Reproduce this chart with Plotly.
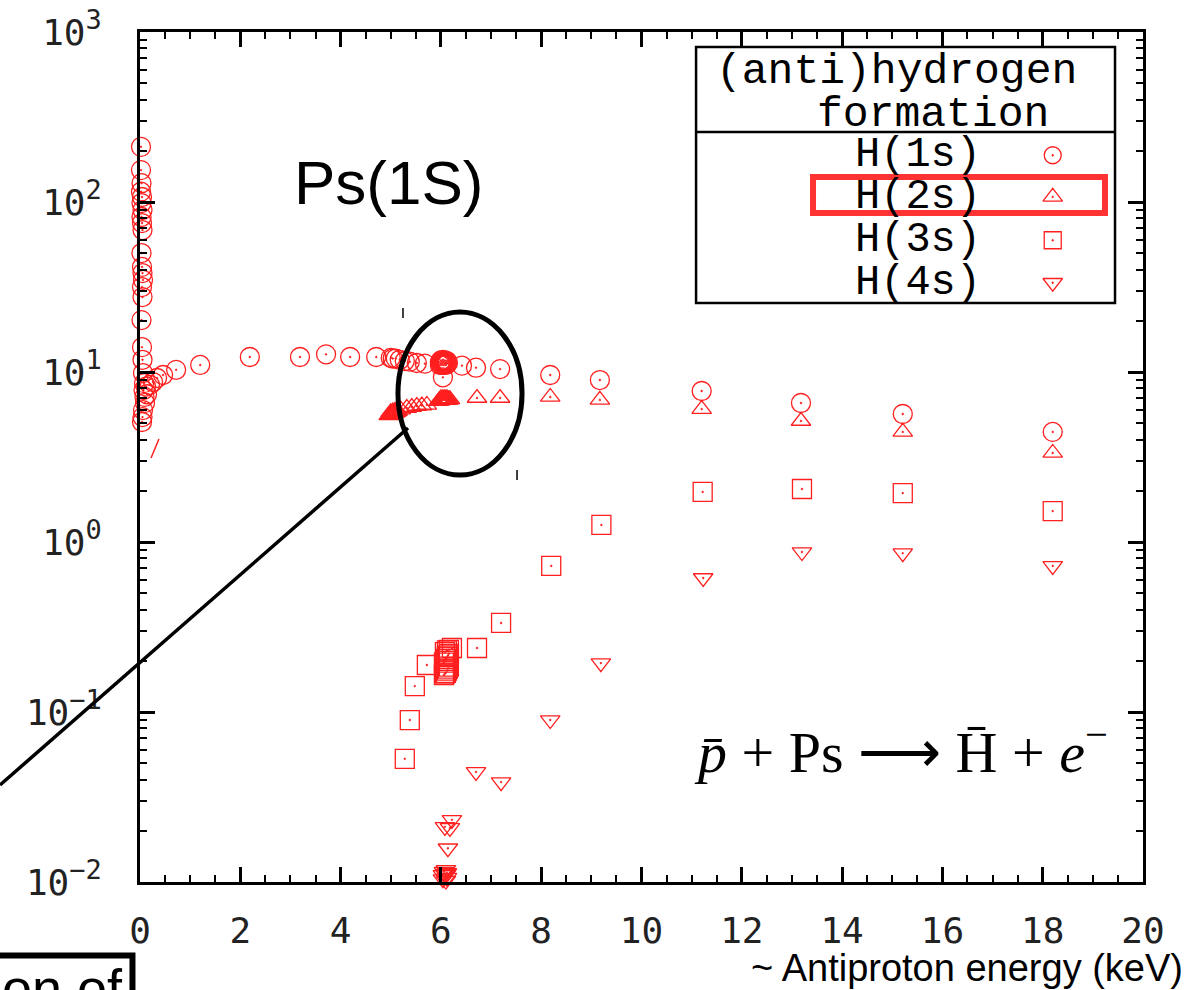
import plotly.graph_objects as go

# ---------------- data ----------------
energy_ticks = [0, 2, 4, 6, 8, 10, 12, 14, 16, 18, 20]
y_tickvals = [0.01, 0.1, 1, 10, 100, 1000]
y_exponents = ["−2", "−1", "0", "1", "2", "3"]

h1s_x = [0.02, 0.02, 0.03, 0.02, 0.04, 0.03, 0.05, 0.03, 0.04, 0.05,
         0.03, 0.04, 0.05, 0.06, 0.04, 0.05, 0.03, 0.04, 0.05, 0.06,
         0.08, 0.07, 0.09, 0.1, 0.06, 0.05, 0.04, 0.12, 0.2, 0.14,
         0.26, 0.34, 0.46, 0.72, 1.2, 2.19, 3.19, 3.71, 4.19, 4.71,
         5.0, 5.04, 5.1, 5.18, 5.28, 5.38, 5.52, 5.68,
         5.98, 5.98, 6.0, 6.0, 6.02, 6.02, 6.04, 6.04, 6.06, 6.06,
         6.08, 6.08, 6.1, 6.1, 6.12, 6.12, 6.14, 6.04,
         6.42, 6.70, 7.18, 8.18, 9.17, 11.2, 13.18, 15.21, 18.2]
h1s_y = [211, 154, 129, 115, 107, 98.6, 89.7, 81.6, 75.2, 68.4,
         50.1, 41.5, 38.2, 34.8, 31.6, 27.6, 20.2, 14.0, 11.8, 9.86,
         8.6, 7.83, 7.13, 6.58, 5.97, 5.43, 5.08, 8.2, 8.4, 7.4,
         8.73, 9.22, 9.6, 10.3, 11.0, 12.25, 12.25, 12.7, 12.25, 12.25,
         12.1, 12.0, 12.0, 11.8, 11.6, 11.5, 11.3, 11.2,
         11.0, 11.4, 11.2, 11.7, 11.0, 11.5, 11.3, 11.8, 11.0, 11.5,
         11.2, 11.7, 11.0, 11.4, 11.2, 11.6, 11.3, 9.3,
         10.9, 10.6, 10.4, 9.6, 8.97, 7.73, 6.57, 5.66, 4.44]

h2s_x = [4.96, 4.98, 5.0, 5.02, 5.04, 5.06, 5.08, 5.1, 5.12, 5.14,
         5.0, 5.04, 5.08, 5.12, 5.2,
         5.32, 5.42, 5.52, 5.62, 5.72,
         5.96, 5.98, 6.0, 6.02, 6.04, 6.06, 6.08, 6.1, 6.12, 6.14,
         6.16, 6.18, 6.0, 6.04, 6.08, 6.12,
         6.72, 7.18, 8.18, 9.17, 11.2, 13.18, 15.21, 18.2]
h2s_y = [5.55, 5.6, 5.62, 5.65, 5.7, 5.72, 5.75, 5.8, 5.85, 5.9,
         5.8, 5.85, 5.9, 5.95, 6.0,
         6.14, 6.22, 6.31, 6.35, 6.4,
         6.75, 6.8, 6.8, 6.85, 6.85, 6.9, 6.9, 6.9, 6.85, 6.85,
         6.9, 6.9, 7.0, 7.0, 7.0, 7.0,
         7.03, 7.03, 7.13, 6.85, 6.05, 5.15, 4.44, 3.34]

h3s_x = [5.28, 5.38, 5.48, 5.72,
         6.06, 6.08, 6.1, 6.12, 6.14, 6.16, 6.06, 6.08, 6.1, 6.12,
         6.14, 6.16, 6.08, 6.12, 6.16,
         6.22, 6.72, 7.2, 8.2, 9.2, 11.22, 13.2, 15.21, 18.2]
h3s_y = [0.053, 0.0897, 0.142, 0.189,
         0.165, 0.168, 0.17, 0.175, 0.18, 0.185, 0.195, 0.2, 0.205, 0.21,
         0.215, 0.22, 0.225, 0.23, 0.232,
         0.238, 0.238, 0.334, 0.723, 1.26, 1.97, 2.05, 1.94, 1.52]

h4s_x = [6.08, 6.06, 6.1, 6.12, 6.08, 6.1, 6.04, 6.06, 6.1, 6.12, 6.04,
         6.22, 6.08, 6.18, 6.14,
         6.70, 7.2, 8.18, 9.19, 11.23, 13.2, 15.21, 18.2]
h4s_y = [0.0092, 0.0099, 0.0102, 0.0106, 0.0112, 0.0118, 0.011, 0.0115,
         0.011, 0.0113, 0.0104,
         0.0232, 0.0211, 0.0208, 0.0158,
         0.0444, 0.0387, 0.0897, 0.194, 0.614, 0.873, 0.86, 0.723]

legend_labels = ["H(1s)", "H(2s)", "H(3s)", "H(4s)"]
legend_symbols = ["circle-open-dot", "triangle-up-open-dot",
                  "square-open-dot", "triangle-down-open-dot"]

# ---------------- figure ----------------
RED = "#ff1f1f"
fig = go.Figure()


def add_series(x, y, symbol, size):
    fig.add_trace(go.Scatter(
        x=x, y=y, mode="markers", cliponaxis=False, showlegend=False,
        marker=dict(symbol=symbol, size=size, color=RED,
                    line=dict(color=RED, width=1.3))))


add_series(h1s_x, h1s_y, "circle-open-dot", 19)
add_series(h2s_x, h2s_y, "triangle-up-open-dot", 17)
add_series(h3s_x, h3s_y, "square-open-dot", 19)
add_series(h4s_x, h4s_y, "triangle-down-open-dot", 17)

# legend key symbols drawn on an overlay axis (paper-like 0..1 coordinates)
leg_sym_x = 0.910
leg_rows = [0.855, 0.806, 0.755, 0.705]
for sym, yy in zip(legend_symbols, leg_rows):
    fig.add_trace(go.Scatter(
        x=[leg_sym_x], y=[yy], xaxis="x2", yaxis="y2", mode="markers",
        showlegend=False, cliponaxis=False,
        marker=dict(symbol=sym, size=17, color=RED,
                    line=dict(color=RED, width=1.3))))

tickfont = dict(family="DejaVu Sans Mono", size=36, color="#222222")
axis_common = dict(showline=True, linecolor="black", linewidth=3,
                   mirror="allticks", ticks="inside", ticklen=15,
                   tickwidth=2.5, tickcolor="black", showgrid=False,
                   zeroline=False, tickfont=tickfont)

minor_y = [m * 10 ** e for e in range(-2, 3) for m in range(2, 10)]
y_ticktext = ["10<sup><span style='font-size:27px'>%s</span></sup>" % e
              for e in y_exponents]

fig.update_layout(
    width=1187, height=990,
    margin=dict(l=140, r=44, t=32, b=108),
    paper_bgcolor="white", plot_bgcolor="white",
    template="none",
    showlegend=False,
    xaxis=dict(range=[0, 20], tickvals=energy_ticks,
               ticklabelstandoff=15,
               minor=dict(ticks="inside", ticklen=7, tickwidth=2,
                          tickcolor="black", dtick=0.5, tick0=0),
               **axis_common),
    yaxis=dict(type="log", range=[-2, 3], tickvals=y_tickvals,
               ticktext=y_ticktext, ticklabelstandoff=28,
               minor=dict(ticks="inside", ticklen=7, tickwidth=2,
                          tickcolor="black", tickvals=minor_y),
               **axis_common),
    xaxis2=dict(overlaying="x", range=[0, 1], visible=False),
    yaxis2=dict(overlaying="y", range=[0, 1], visible=False),
)

# ---------------- legend box & decorations ----------------
shapes = []
shapes.append(dict(type="rect", xref="paper", yref="paper",
                   x0=0.5544, x1=0.9721, y0=0.6812, y1=0.9824,
                   line=dict(color="black", width=2.5),
                   fillcolor="white", layer="below"))
shapes.append(dict(type="line", xref="paper", yref="paper",
                   x0=0.5544, x1=0.9721, y0=0.8824, y1=0.8824,
                   line=dict(color="black", width=2.5)))
shapes.append(dict(type="rect", xref="paper", yref="paper",
                   x0=0.6710, x1=0.9621, y0=0.7871, y1=0.8294,
                   line=dict(color="#ff3333", width=6)))
shapes.append(dict(type="circle", xref="paper", yref="paper",
                   x0=0.2572, x1=0.3809, y0=0.4788, y1=0.6706,
                   line=dict(color="black", width=5)))
shapes.append(dict(type="line", xref="paper", yref="paper",
                   x0=-0.1396, y0=0.1141, x1=0.2672, y1=0.5341,
                   line=dict(color="black", width=3.5)))
shapes.append(dict(type="line", xref="paper", yref="paper",
                   x0=0.011, y0=0.4988, x1=0.0189, y1=0.5212,
                   line=dict(color=RED, width=1.5)))
shapes.append(dict(type="line", xref="paper", yref="paper",
                   x0=0.2622, y0=0.6635, x1=0.2622, y1=0.6753,
                   line=dict(color="black", width=1.5)))
shapes.append(dict(type="line", xref="paper", yref="paper",
                   x0=0.3759, y0=0.4729, x1=0.3759, y1=0.4847,
                   line=dict(color="black", width=1.5)))
shapes.append(dict(type="rect", xref="paper", yref="paper",
                   x0=-0.16, x1=-0.0075, y0=-0.16, y1=-0.0865,
                   line=dict(color="black", width=6)))
fig.update_layout(shapes=shapes)

mono = "Liberation Mono"
ann = []


def add_text(text, x, y, family, size, xanchor="center", yanchor="middle"):
    ann.append(dict(text=text, x=x, y=y, xref="paper", yref="paper",
                    xanchor=xanchor, yanchor=yanchor, showarrow=False,
                    font=dict(family=family, size=size, color="black")))


add_text("(anti)hydrogen", 0.7547, 0.9541, mono, 43)
add_text("formation", 0.7906, 0.9030, mono, 43)
for lab, yy in zip(legend_labels, leg_rows):
    add_text(lab, 0.8405, yy, mono, 42, xanchor="right")
add_text("Ps(1S)", 0.2478, 0.8229, "Liberation Sans", 62)
add_text("<i>p\u0304</i> + Ps \u27F6 H\u0304 + <i>e</i><sup>\u2212</sup>",
         0.7587, 0.1576, "Liberation Serif", 58)
add_text("~ Antiproton energy (keV)", 1.0419, -0.1012, "Liberation Sans", 38,
         xanchor="right")
add_text("on of", -0.0768, -0.0870, "Liberation Sans", 54, yanchor="top")
fig.update_layout(annotations=ann)

fig.write_html("out.html")
